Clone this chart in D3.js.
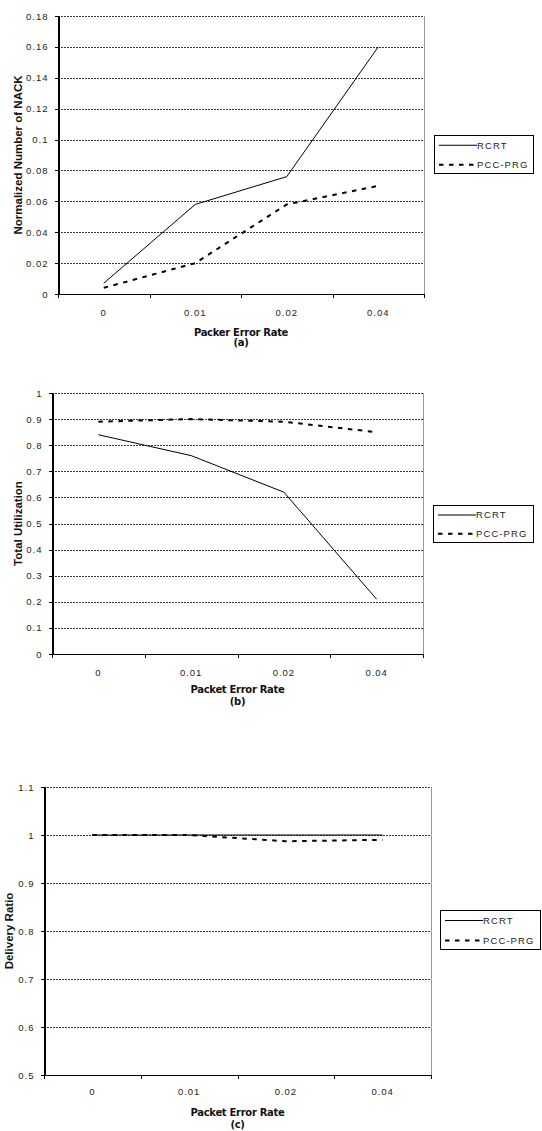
<!DOCTYPE html>
<html>
<head>
<meta charset="utf-8">
<script src="https://cdn.jsdelivr.net/npm/d3@7"></script>
<style>
  html, body { margin: 0; padding: 0; background: #fff; }
  svg { display: block; }
  .tick-label { font-family: "Liberation Sans", Arial, sans-serif; font-size: 9.5px; letter-spacing: 1px; fill: #222; }
  .legend-label { font-family: "Liberation Sans", Arial, sans-serif; font-size: 9.5px; letter-spacing: 1.1px; fill: #222; }
  .y-title { font-family: "Liberation Sans", Arial, sans-serif; font-size: 11.5px; font-weight: bold; fill: #111; }
  .x-title { font-family: "DejaVu Sans", sans-serif; font-size: 10px; font-weight: bold; fill: #111; letter-spacing: -0.3px; }
</style>
</head>
<body>
<svg id="chart" width="542" height="1131"></svg>
<script>
// Packet error rates on the x axis (shared by all three panels)
const categories = ["0", "0.01", "0.02", "0.04"];
const seriesNames = ["RCRT", "PCC-PRG"];

// (a) Normalized number of NACK
const nackRCRT = [0.007, 0.058, 0.076, 0.16];
const nackPCC = [0.004, 0.02, 0.058, 0.07];
const nackTicks = [0, 0.02, 0.04, 0.06, 0.08, 0.1, 0.12, 0.14, 0.16, 0.18];

// (b) Total utilization
const utilRCRT = [0.84, 0.76, 0.62, 0.21];
const utilPCC = [0.89, 0.90, 0.89, 0.85];
const utilTicks = [0, 0.1, 0.2, 0.3, 0.4, 0.5, 0.6, 0.7, 0.8, 0.9, 1];

// (c) Delivery ratio
const deliveryRCRT = [1, 1, 1, 1];
const deliveryPCC = [1, 1, 0.987, 0.99];
const deliveryTicks = [0.5, 0.6, 0.7, 0.8, 0.9, 1, 1.1];

const svg = d3.select("#chart");
const fmt = d3.format("~g");

const panels = [
  {
    box: { left: 58, right: 424, top: 16, bottom: 294 },
    ticks: nackTicks, values: [nackRCRT, nackPCC],
    yTitle: "Normalized Number of NACK", yTitleX: 18,
    xTitle: "Packer Error Rate", tag: "(a)",
    labelY: 316, titleY: 336, tagY: 345.5,
    legend: { x: 434, y: 135, w: 99, h: 38 }
  },
  {
    box: { left: 52, right: 423, top: 393, bottom: 654 },
    ticks: utilTicks, values: [utilRCRT, utilPCC],
    yTitle: "Total Utilization", yTitleX: 18,
    xTitle: "Packet Error Rate", tag: "(b)",
    labelY: 676, titleY: 693, tagY: 705,
    legend: { x: 433, y: 505, w: 100, h: 37 }
  },
  {
    box: { left: 44, right: 431, top: 787, bottom: 1075 },
    ticks: deliveryTicks, values: [deliveryRCRT, deliveryPCC],
    yTitle: "Delivery Ratio", yTitleX: 9,
    xTitle: "Packet Error Rate", tag: "(c)",
    labelY: 1094.5, titleY: 1116, tagY: 1127.5,
    legend: { x: 440, y: 910, w: 100, h: 39 }
  }
];

const lineStyles = [
  { width: 1, dash: null },
  { width: 2, dash: "4.5,5.5" }
];

panels.forEach(p => {
  const b = p.box;
  const g = svg.append("g");

  const x = d3.scaleBand().domain(categories).range([b.left, b.right]).padding(0);
  const y = d3.scaleLinear()
    .domain([p.ticks[0], p.ticks[p.ticks.length - 1]])
    .range([b.bottom, b.top]);

  // dotted horizontal gridlines
  g.append("g").selectAll("line")
    .data(p.ticks.slice(1))
    .join("line")
    .attr("x1", b.left).attr("x2", b.right)
    .attr("y1", d => Math.round(y(d)) + 0.5).attr("y2", d => Math.round(y(d)) + 0.5)
    .attr("stroke", "#3a3a3a").attr("stroke-width", 1)
    .attr("stroke-dasharray", "2,1")
    .attr("shape-rendering", "crispEdges");

  // plot-area right border
  g.append("line")
    .attr("x1", b.right + 0.5).attr("x2", b.right + 0.5)
    .attr("y1", b.top).attr("y2", b.bottom)
    .attr("stroke", "#9a9a9a").attr("stroke-width", 1)
    .attr("shape-rendering", "crispEdges");

  // y axis
  const yAxis = d3.axisLeft(y).tickValues(p.ticks).tickFormat(fmt).tickSize(4).tickPadding(6);
  const ya = g.append("g").attr("transform", `translate(${b.left + 0.5},0)`).call(yAxis);
  ya.select(".domain").attr("stroke", "#000").attr("stroke-width", 1.3).attr("shape-rendering", "crispEdges");
  ya.selectAll(".tick line").attr("stroke", "#000").attr("shape-rendering", "crispEdges");
  ya.selectAll(".tick text").attr("class", "tick-label").attr("font-family", null).attr("font-size", null);

  // x axis: ticks at category boundaries, labels at category centres
  const bounds = categories.map(c => x(c)).concat([b.right]);
  const xa = g.append("g");
  xa.append("line")
    .attr("x1", b.left).attr("x2", b.right + 1)
    .attr("y1", b.bottom + 0.5).attr("y2", b.bottom + 0.5)
    .attr("stroke", "#000").attr("stroke-width", 1.3)
    .attr("shape-rendering", "crispEdges");
  xa.selectAll("line.bt").data(bounds).join("line")
    .attr("class", "bt")
    .attr("x1", d => Math.round(d) + 0.5).attr("x2", d => Math.round(d) + 0.5)
    .attr("y1", b.bottom).attr("y2", b.bottom + 4)
    .attr("stroke", "#000").attr("shape-rendering", "crispEdges");
  xa.selectAll("text").data(categories).join("text")
    .attr("class", "tick-label")
    .attr("x", d => x(d) + x.bandwidth() / 2)
    .attr("y", p.labelY)
    .attr("text-anchor", "middle")
    .text(d => d);

  // series lines
  p.values.forEach((vals, i) => {
    const line = d3.line()
      .x((d, k) => x(categories[k]) + x.bandwidth() / 2)
      .y(d => y(d));
    g.append("path")
      .datum(vals)
      .attr("d", line)
      .attr("fill", "none")
      .attr("stroke", "#000")
      .attr("stroke-width", lineStyles[i].width)
      .attr("stroke-dasharray", lineStyles[i].dash);
  });

  // axis titles
  g.append("text")
    .attr("class", "y-title")
    .attr("transform", `translate(${p.yTitleX + 4},${(b.top + b.bottom) / 2}) rotate(-90)`)
    .attr("text-anchor", "middle")
    .text(p.yTitle);
  const cx = (b.left + b.right) / 2;
  g.append("text").attr("class", "x-title")
    .attr("x", cx).attr("y", p.titleY).attr("text-anchor", "middle").text(p.xTitle);
  g.append("text").attr("class", "x-title")
    .attr("x", cx).attr("y", p.tagY).attr("text-anchor", "middle").text(p.tag);

  // legend
  const L = p.legend;
  const lg = g.append("g");
  lg.append("rect")
    .attr("x", L.x + 0.5).attr("y", L.y + 0.5)
    .attr("width", L.w).attr("height", L.h)
    .attr("fill", "#fff").attr("stroke", "#000").attr("stroke-width", 1)
    .attr("shape-rendering", "crispEdges");
  seriesNames.forEach((name, i) => {
    const ry = L.y + L.h * (i === 0 ? 0.27 : 0.78);
    lg.append("line")
      .attr("x1", L.x + 5).attr("x2", L.x + 43)
      .attr("y1", ry).attr("y2", ry)
      .attr("stroke", "#000")
      .attr("stroke-width", lineStyles[i].width)
      .attr("stroke-dasharray", lineStyles[i].dash);
    lg.append("text")
      .attr("class", "legend-label")
      .attr("x", L.x + 43).attr("y", ry + 3.5)
      .text(name);
  });
});
</script>
</body>
</html>
